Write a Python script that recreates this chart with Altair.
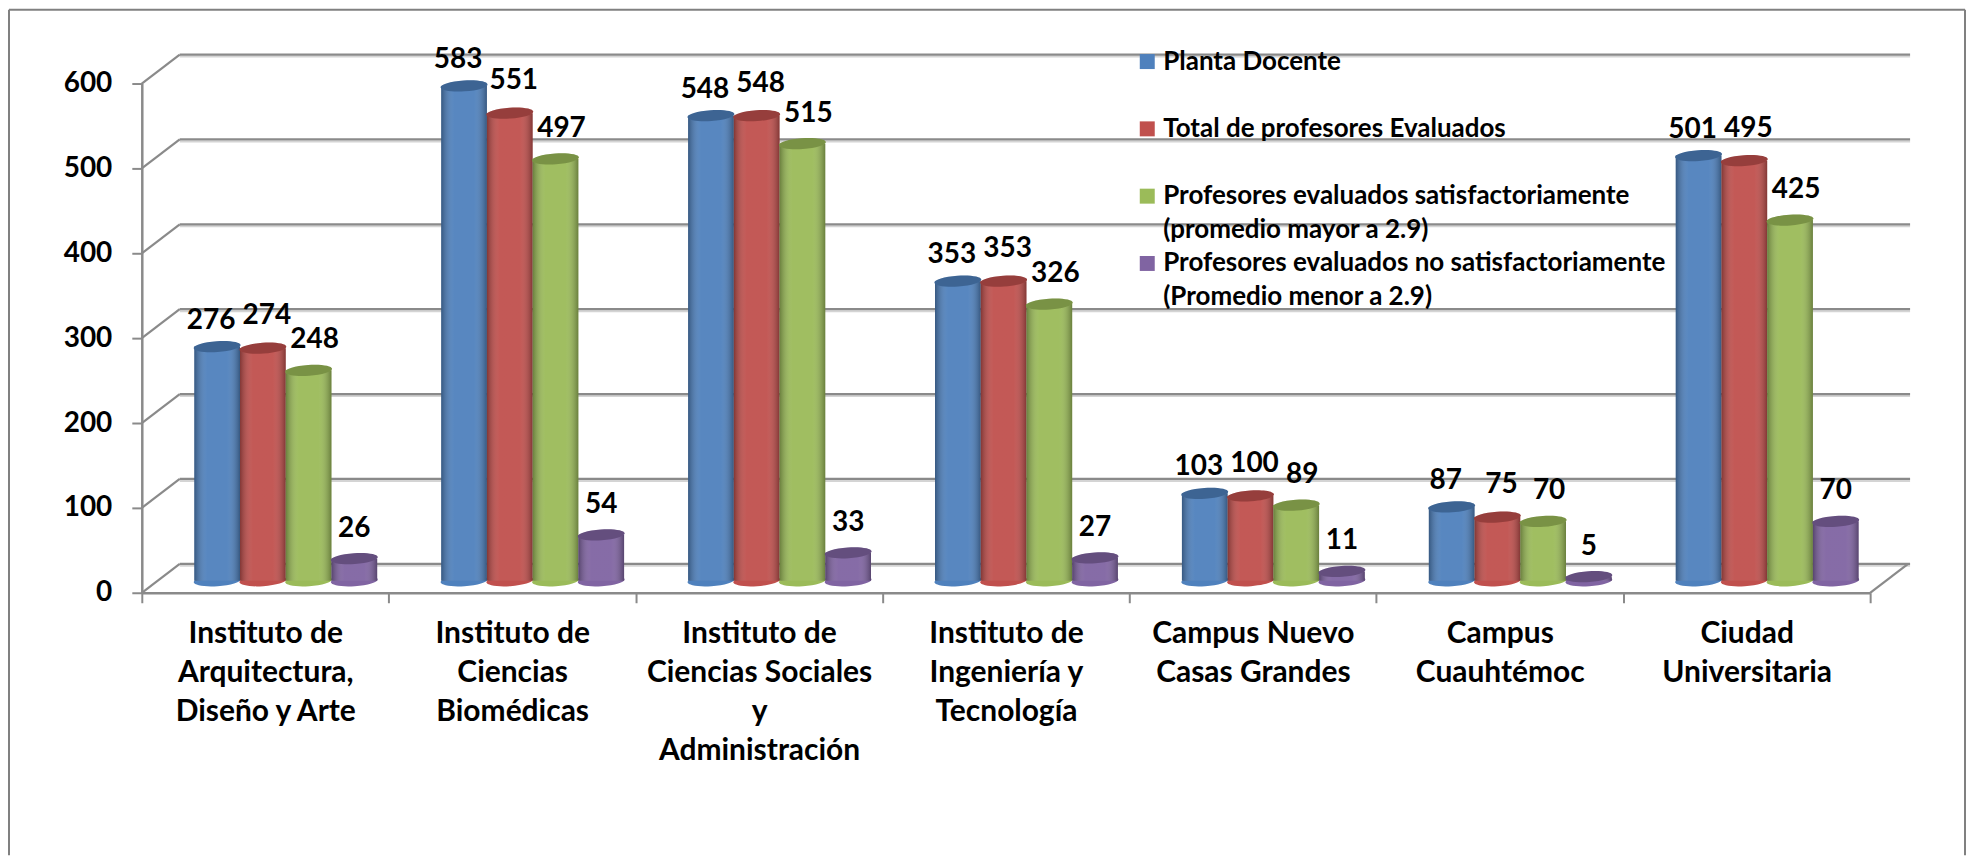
import altair as alt
import pandas as pd

categories = [
    "Instituto de|Arquitectura,|Diseño y Arte",
    "Instituto de|Ciencias|Biomédicas",
    "Instituto de|Ciencias Sociales|y|Administración",
    "Instituto de|Ingeniería y|Tecnología",
    "Campus Nuevo|Casas Grandes",
    "Campus|Cuauhtémoc",
    "Ciudad|Universitaria",
]
series = [
    "Planta Docente",
    "Total de profesores Evaluados",
    "Profesores evaluados satisfactoriamente|(promedio mayor a 2.9)",
    "Profesores evaluados no satisfactoriamente|(Promedio menor a 2.9)",
]
planta = [276, 583, 548, 353, 103, 87, 501]
total = [274, 551, 548, 353, 100, 75, 495]
satisf = [248, 497, 515, 326, 89, 70, 425]
no_satisf = [26, 54, 33, 27, 11, 5, 70]
colors = ["#4F81BD", "#C0504D", "#9BBB59", "#8064A2"]
y_ticks = [0, 100, 200, 300, 400, 500, 600]

rows = []
for s, vals in zip(series, [planta, total, satisf, no_satisf]):
    for c, v in zip(categories, vals):
        rows.append({"cat": c, "serie": s, "v": v})
df = pd.DataFrame(rows)
grid = pd.DataFrame({"t": y_ticks})

FONT = "Lato"
W, H = 1731, 510
DX, DY = 38, -29           # depth of the 3D floor
BY = -12                   # bars stand in the middle of the floor
ELLIPSE = "M-23.5,1.6 A23.5,5.4 -3.8 1 1 23.5,-1.6 A23.5,5.4 -3.8 1 1 -23.5,1.6 Z"
DIAG = f"M0,0 L{DX},{DY}"
SWATCH = "M-7.5,-7.5 L7.5,-7.5 L7.5,7.5 L-7.5,7.5 Z"
GRAY = "#8a8a8a"

x_axis = alt.Axis(labelExpr="split(datum.label,'|')", labelAngle=0, labelFont=FONT, labelFontWeight="bold",
                  labelFontSize=30, labelColor="#000", labelLineHeight=39, labelPadding=16, labelLimit=400,
                  labelBaseline="top", tickBand="extent", tickSize=10, tickWidth=2, tickColor=GRAY,
                  domainColor=GRAY, domainWidth=2.5, labelOverlap=False, grid=False)
y_axis = alt.Axis(values=y_ticks, labelFont=FONT, labelFontWeight="bold", labelFontSize=28, labelColor="#000",
                  labelPadding=20, tickSize=10, tickWidth=2, tickColor=GRAY, domainColor=GRAY, domainWidth=2.5,
                  grid=False)
x = alt.X("cat:N", sort=categories, title=None, scale=alt.Scale(paddingInner=0, paddingOuter=0), axis=x_axis)
x_off = alt.XOffset("serie:N", sort=series,
                    scale=alt.Scale(domain=series, paddingInner=0, paddingOuter=0.7, align=0.82))
y_scale = alt.Scale(domain=[0, 600], nice=False)
y = alt.Y("v:Q", scale=y_scale, title=None, axis=y_axis)
color_scale = alt.Scale(domain=series, range=colors)
color_plain = alt.Color("serie:N", scale=color_scale, legend=None, sort=series)
shade = alt.Gradient(
    gradient="linear", x1=0, x2=1, y1=0, y2=0,
    stops=[
        alt.GradientStop(offset=0, color="rgba(0,0,0,0.32)"),
        alt.GradientStop(offset=0.28, color="rgba(255,255,255,0.05)"),
        alt.GradientStop(offset=0.72, color="rgba(255,255,255,0.05)"),
        alt.GradientStop(offset=1, color="rgba(0,0,0,0.32)"),
    ],
)

base = alt.Chart(df)
grid_base = alt.Chart(grid)
tick_y = alt.Y("t:Q", scale=y_scale, title=None, axis=y_axis)

back_halo = grid_base.mark_rule(color="#d4d4d4", strokeWidth=2, yOffset=DY + 2).encode(
    y=tick_y, x=alt.value(DX), x2=alt.value(W + 40))
back = grid_base.mark_rule(color=GRAY, strokeWidth=2.2, yOffset=DY).encode(
    y=tick_y, x=alt.value(DX), x2=alt.value(W + 40))
diag_left = grid_base.mark_point(shape=DIAG, size=4, filled=False, stroke=GRAY, strokeWidth=2.2, opacity=1).encode(
    y=tick_y, x=alt.value(0))
diag_right = alt.Chart(grid[grid.t == 0]).mark_point(shape=DIAG, size=4, filled=False, stroke=GRAY, strokeWidth=2.2,
                                                     opacity=1).encode(y=tick_y, x=alt.value(W))

bottom = base.mark_point(shape=ELLIPSE, size=4, filled=True, opacity=1, yOffset=BY).encode(
    x=x, xOffset=x_off, y=alt.Y("zero:Q", scale=y_scale, axis=y_axis, title=None), color=color_plain
).transform_calculate(zero="0")
bars = base.mark_bar(yOffset=BY, y2Offset=BY).encode(x=x, xOffset=x_off, y=y, color=color_plain)
bars_shade = base.mark_bar(yOffset=BY, y2Offset=BY, fill=shade).encode(x=x, xOffset=x_off, y=y)
caps = base.mark_point(shape=ELLIPSE, size=4, filled=True, opacity=1, yOffset=BY).encode(
    x=x, xOffset=x_off, y=y, color=color_plain)
caps_shade = base.mark_point(shape=ELLIPSE, size=4, filled=True, opacity=0.22, color="#000",
                             yOffset=BY).encode(x=x, xOffset=x_off, y=y)

label_nudge = {series[0]: (-6, -26), series[1]: (4, -32), series[2]: (6, -30), series[3]: (0, -30)}
labels = []
for s in series:
    ndx, ndy = label_nudge[s]
    labels.append(
        base.transform_filter(alt.datum.serie == s).mark_text(
            font=FONT, fontWeight="bold", fontSize=28, color="#000", dx=ndx, dy=BY + ndy
        ).encode(x=x, xOffset=x_off, y=y, text="v:Q")
    )

# Legend: evenly spaced rows, two-line labels keep their first line beside the swatch
legend_layers = []
for i, (s, c) in enumerate(zip(series, colors)):
    row = alt.Chart(pd.DataFrame({"name": [s]}))
    ly = -22 + i * 67.4
    legend_layers.append(row.mark_point(shape=SWATCH, size=4, filled=True, opacity=1, color=c).encode(
        x=alt.value(1007), y=alt.value(ly)))
    legend_layers.append(row.mark_text(font=FONT, fontWeight="bold", fontSize=26, color="#000", align="left",
                                       baseline="alphabetic", lineBreak="|", lineHeight=34).encode(
        x=alt.value(1023), y=alt.value(ly + 8), text="name:N"))

frame_data = alt.Chart(pd.DataFrame({"a": [0]}))
FC = "#808080"
frame = alt.layer(
    frame_data.mark_rule(color=FC, strokeWidth=2).encode(x=alt.value(-133), y=alt.value(-74), y2=alt.value(773)),
    frame_data.mark_rule(color=FC, strokeWidth=2).encode(x=alt.value(1826), y=alt.value(-74), y2=alt.value(773)),
    frame_data.mark_rule(color=FC, strokeWidth=2).encode(y=alt.value(-74), x=alt.value(-133), x2=alt.value(1826)),
)

chart = alt.layer(
    frame, back_halo, back, diag_left, diag_right, bottom, bars, bars_shade, caps, caps_shade, *labels, *legend_layers
).properties(
    width=W, height=H, autosize=alt.AutoSizeParams(type="none"),
    padding={"left": 134, "top": 75, "right": 97, "bottom": 263}, background="#ffffff",
).configure_view(stroke=None)

chart.save("out.html", embed_options={"renderer": "svg", "actions": False})
